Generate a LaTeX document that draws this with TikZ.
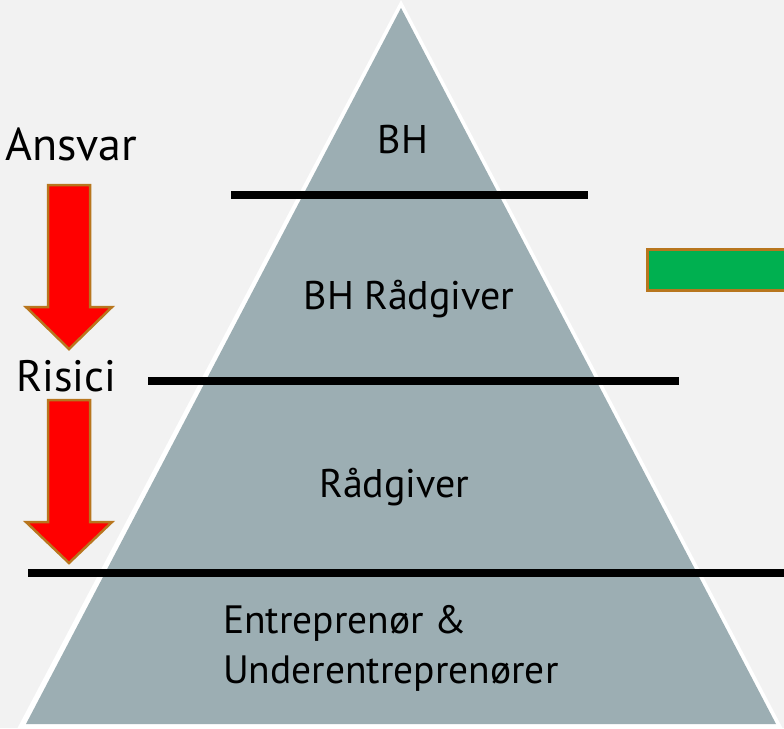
\documentclass[tikz,border=0pt]{standalone}
\usepackage{fontspec}
\setmainfont{PT Sans}
\definecolor{bgc}{HTML}{F2F2F2}
\definecolor{pyr}{HTML}{9CAEB3}
\definecolor{arrred}{HTML}{FF0000}
\definecolor{arrbd}{HTML}{B8761E}
\definecolor{grn}{HTML}{00B050}
\tikzset{
  sepline/.style={line width=7.5pt, black},
  blockarrow/.style={fill=arrred, draw=arrbd, line width=2.5pt, line join=miter},
  lbl/.style={inner sep=0pt, anchor=base, font=\fontsize{40}{48}\selectfont},
  entlbl/.style={inner sep=0pt, anchor=base west, font=\fontsize{39.5}{48}\selectfont},
  sidelbl/.style={inner sep=0pt, anchor=base west, font=\fontsize{46}{55}\selectfont},
}
\begin{document}
\begin{tikzpicture}[x=1pt,y=-1pt]
\useasboundingbox (0,0) rectangle (784,728);
\fill[bgc] (0,0) rectangle (784,728);
% pyramid
\fill[white] (401,0) -- (783,729) -- (17,729) -- cycle;
\fill[pyr] (401,8) -- (776,724) -- (26,724) -- cycle;
% separator lines
\draw[sepline] (231,195) -- (588,195);
\draw[sepline] (148,381) -- (679,381);
\draw[sepline] (28,573) -- (784,573);
% green bar
\draw[fill=grn, draw=arrbd, line width=3pt] (647.7,249.5) rectangle (800,290.5);
% arrows
\draw[blockarrow] (48,185) -- (90,185) -- (90,307) -- (112,307) -- (69,349) -- (26,307) -- (48,307) -- cycle;
\draw[blockarrow] (48,400) -- (90,400) -- (90,522) -- (112,522) -- (69,563) -- (26,522) -- (48,522) -- cycle;
% labels
\node[sidelbl] (ansvar) at (5,160) {Ansvar};
\node[sidelbl, font=\fontsize{44}{53}\selectfont] (risici) at (16,391) {Risici};
\node[lbl] (bh) at (403,153) {BH};
\node[lbl] (bhr) at (409,309) {BH Rådgiver};
\node[lbl] (rg) at (394.5,497) {Rådgiver};
\node[entlbl] (ent1) at (223,633) {Entreprenør \&};
\node[entlbl] (ent2) at (223,683) {Underentreprenører};
\end{tikzpicture}
\end{document}
